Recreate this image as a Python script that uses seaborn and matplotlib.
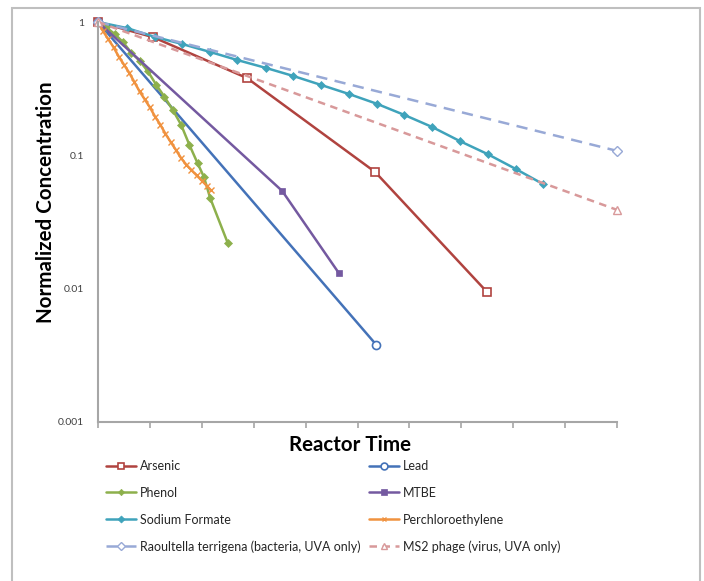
import matplotlib
matplotlib.use("Agg")
import matplotlib.pyplot as plt
from matplotlib.patches import Rectangle
import seaborn as sns
import pandas as pd

# ---------------- data (x in reactor-time tick units, y normalized) -------------
arsenic_x = [0, 1.06, 2.87, 5.34, 7.50]
arsenic_y = [1.0, 0.77, 0.38, 0.075, 0.0094]

lead_x = [0, 5.36]
lead_y = [1.0, 0.0038]

phenol_x = [0, 0.16, 0.32, 0.48, 0.64, 0.80, 0.96, 1.12, 1.28, 1.44, 1.60, 1.76, 1.92, 2.04, 2.16, 2.50]
phenol_y = [1.0, 0.912, 0.813, 0.708, 0.589, 0.513, 0.427, 0.339, 0.275, 0.219, 0.170, 0.120, 0.087, 0.069, 0.048, 0.022]

mtbe_x = [0, 3.55, 4.64]
mtbe_y = [1.0, 0.054, 0.0131]

formate_x = [0, 0.56, 1.10, 1.62, 2.16, 2.68, 3.24, 3.76, 4.30, 4.84, 5.38, 5.90, 6.44, 6.97, 7.51, 8.05, 8.57]
formate_y = [1.0, 0.90, 0.772, 0.684, 0.596, 0.519, 0.452, 0.394, 0.337, 0.288, 0.243, 0.201, 0.163, 0.128, 0.102, 0.079, 0.061]

pce_x = [0, 0.1, 0.2, 0.3, 0.4, 0.5, 0.6, 0.7, 0.8, 0.9, 1.0, 1.1, 1.2, 1.3, 1.4, 1.5, 1.6, 1.7, 1.8, 1.9, 2.0, 2.1, 2.17]
pce_y = [1.0, 0.851, 0.741, 0.646, 0.550, 0.479, 0.417, 0.355, 0.302, 0.263, 0.229, 0.195, 0.170, 0.145,
         0.126, 0.110, 0.0955, 0.0851, 0.0776, 0.0708, 0.0646, 0.0589, 0.0550]

raoul_x = [0, 10]
raoul_y = [1.0, 0.108]

ms2_x = [0, 10]
ms2_y = [1.0, 0.039]

x_ticks = list(range(0, 11))
y_ticks = [0.001, 0.01, 0.1, 1]
y_tick_labels = ["0.001", "0.01", "0.1", "1"]

series = [
    ("Arsenic", arsenic_x, arsenic_y, dict(color="#B0433F", marker="s", mfc="white", ms=5.6, mew=1.2, ls="-")),
    ("Lead", lead_x, lead_y, dict(color="#4472B8", marker="o", mfc="white", ms=5.8, mew=1.2, ls="-")),
    ("Phenol", phenol_x, phenol_y, dict(color="#8DB04C", marker="D", ms=3.8, mew=0.5, ls="-")),
    ("MTBE", mtbe_x, mtbe_y, dict(color="#7459A0", marker="s", ms=4.5, mew=0.5, ls="-")),
    ("Sodium Formate", formate_x, formate_y, dict(color="#3FA3BB", marker="D", ms=4.2, mew=0.5, ls="-")),
    ("Perchloroethylene", pce_x, pce_y, dict(color="#F0923F", marker="x", ms=4.0, mew=1.0, ls="-")),
    ("Raoultella terrigena (bacteria, UVA only)", raoul_x, raoul_y,
     dict(color="#98A9D6", marker="D", mfc="white", ms=5, mew=1.0, ls=(0, (4.5, 3)))),
    ("MS2 phage (virus, UVA only)", ms2_x, ms2_y,
     dict(color="#D8999A", marker="^", mfc="white", ms=5.5, mew=1.0, ls=(0, (3, 2.2)))),
]

# ---------------- figure -------------
W, H = 704, 581
sns.set_theme(style="white")
plt.rcParams["font.family"] = ["Lato", "DejaVu Sans"]

fig = plt.figure(figsize=(W / 100, H / 100), dpi=100)
fig.patch.set_facecolor("white")

L, R, T, B = 98, 617, 22, 422
ax = fig.add_axes([L / W, 1 - B / H, (R - L) / W, (B - T) / H])
ax.set_facecolor("white")

for name, xs, ys, st in series:
    df = pd.DataFrame({"t": xs, "c": ys})
    sns.lineplot(data=df, x="t", y="c", ax=ax, color=st["color"], marker=st["marker"],
                 markerfacecolor=st.get("mfc", st["color"]), markeredgecolor=st["color"],
                 markersize=st["ms"], markeredgewidth=st["mew"], linestyle=st["ls"],
                 linewidth=1.8, label=name, errorbar=None, clip_on=False)

ax.set_yscale("log")
ax.set_xlim(0, 10)
ax.set_ylim(0.001, 1)
ax.set_xticks(x_ticks)
ax.set_xticklabels([])
ax.set_yticks(y_ticks)
ax.set_yticklabels(y_tick_labels)
ax.yaxis.set_minor_locator(matplotlib.ticker.NullLocator())
ax.tick_params(axis="y", length=0, pad=10, labelsize=7.5, labelcolor="#404040")
ax.tick_params(axis="x", length=4, width=1.2, color="#A6A6A6", direction="out", bottom=True)
ax.set_xlabel("")
ax.set_ylabel("")
for s in ["top", "right"]:
    ax.spines[s].set_visible(False)
for s in ["left", "bottom"]:
    ax.spines[s].set_color("#A6A6A6")
    ax.spines[s].set_linewidth(1.5)
ax.grid(False)

fig.text(46 / W, 1 - 202 / H, "Normalized Concentration", rotation=90, ha="center", va="center",
         fontsize=14.8, fontweight="bold", color="black")
fig.text(350 / W, 1 - 445 / H, "Reactor Time", ha="center", va="center",
         fontsize=14.8, fontweight="bold", color="black")

# legend in row-major order of 2 columns
h, l = ax.get_legend_handles_labels()
order = [0, 2, 4, 6, 1, 3, 5, 7]
ax.legend([h[i] for i in order], [l[i] for i in order], ncol=2, frameon=False,
          loc="upper left", bbox_to_anchor=(106 / W, 1 - 460 / H), bbox_transform=fig.transFigure,
          fontsize=9, handlelength=2.4, handletextpad=0.3, labelspacing=1.18,
          columnspacing=0.7, borderpad=0, borderaxespad=0, markerscale=0.85)

# chart border
fig.patches.append(Rectangle((12 / W, -0.05), (700 - 12) / W, 1.05 - 8 / H, transform=fig.transFigure,
                             fill=False, edgecolor="#BFBFBF", linewidth=1.5))

fig.savefig("out.png", dpi=100, facecolor="white")
